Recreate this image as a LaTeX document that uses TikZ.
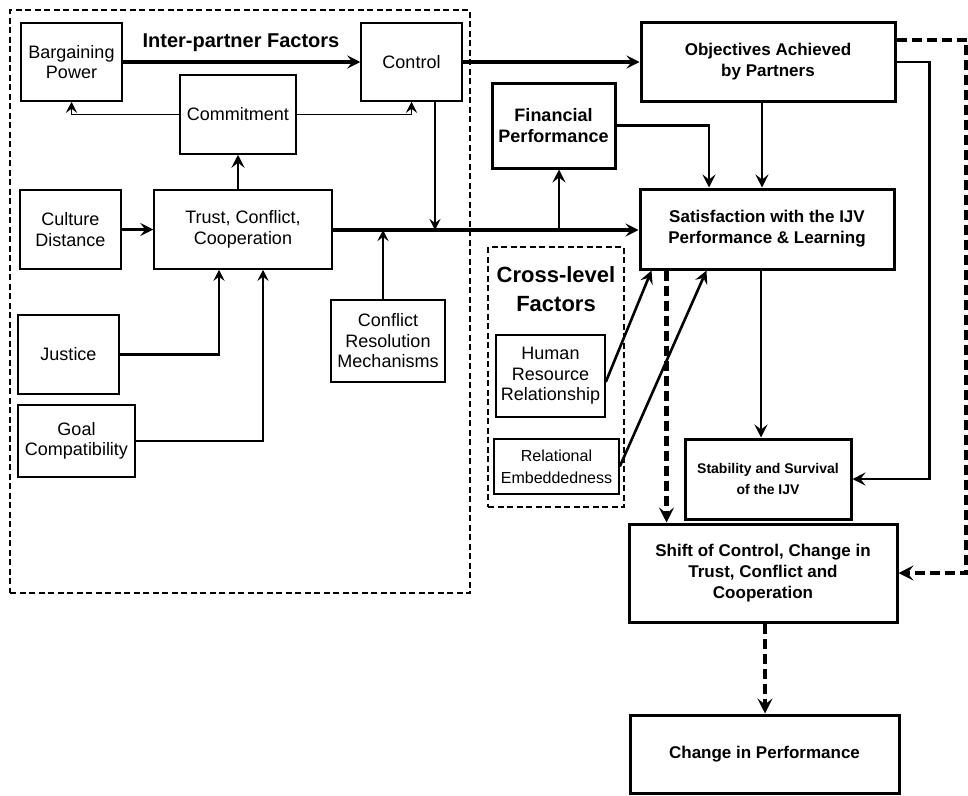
\documentclass[tikz,border=0pt]{standalone}
\usepackage{fontspec}
\setmainfont{Liberation Sans}
\usetikzlibrary{arrows.meta,calc,positioning}

\begin{document}
\begin{tikzpicture}[
    % GLOBAL CFG
    x=1pt, y=-1pt,
    >={Stealth[length=13pt,width=13pt,inset=5pt]},
    % Styles
    factor/.style={% For the plain factor boxes
        rectangle,
        draw,
        line width=1.5pt,
        align=center,
        inner sep=1pt,
        font=\fontsize{18}{20.5}\selectfont,
        },
    outcome/.style={% For the bold outcome boxes
        rectangle,
        draw,
        line width=3pt,
        align=center,
        inner sep=1pt,
        font=\bfseries\fontsize{17}{21}\selectfont,
        },
    group/.style={% For the dashed frames
        rectangle,
        draw,
        line width=2.8pt,
        dash pattern=on 6pt off 3.5pt,
        },
    grouptitle/.style={% Titles of the frames
        align=center,
        inner sep=0pt,
        font=\bfseries\fontsize{20}{28}\selectfont,
        },
    ArrowThin/.style={% Thin connectors
        ->,
        line width=1.8pt,
        >={Stealth[length=11pt,width=11pt,inset=4pt]},
        },
    ArrowThick/.style={% Thick connectors
        ->,
        line width=3.2pt,
        },
    ArrowDash/.style={% Dashed feedback connectors
        ->,
        line width=4.2pt,
        dash pattern=on 10pt off 5pt,
        >={Stealth[length=15pt,width=15pt,inset=6pt]},
        },
    ]

\useasboundingbox (0,0) rectangle (968,795);

%Frames
    \node [group, minimum width=460pt, minimum height=583pt] (ipbox) at (240,301.5) {};
    \node [group, minimum width=136pt, minimum height=260pt] (clbox) at (556,377) {};
    \node [grouptitle] (iptitle) at (241,43) {Inter-partner Factors};
    \node [grouptitle, font=\bfseries\fontsize{22}{29}\selectfont] (cltitle) at (556,289) {Cross-level\\Factors};

%Inter-partner factors
    \node [factor, minimum width=101pt, minimum height=78pt] (bp) at (71.5,62) {Bargaining\\Power};
    \node [factor, minimum width=101pt, minimum height=78pt] (ctrl) at (411.5,62) {Control};
    \node [factor, minimum width=116pt, minimum height=79pt] (comm) at (238,114.5) {Commitment};
    \node [factor, minimum width=101pt, minimum height=79pt] (cd) at (70.5,229.5) {Culture\\Distance};
    \node [factor, minimum width=178pt, minimum height=79pt] (tcc) at (243,229.5) {Trust, Conflict,\\Cooperation};
    \node [factor, minimum width=101pt, minimum height=79pt] (just) at (68.5,354.5) {Justice};
    \node [factor, minimum width=117pt, minimum height=72pt] (goal) at (76.5,441) {Goal\\Compatibility};
    \node [factor, minimum width=114pt, minimum height=82pt] (crm) at (388,341) {Conflict\\Resolution\\Mechanisms};

%Cross-level factors
    \node [factor, minimum width=109pt, minimum height=82pt] (hr) at (550.5,376) {Human\\Resource\\Relationship};
    \node [factor, minimum width=125pt, minimum height=55pt, font=\fontsize{16}{22}\selectfont] (rel) at (556.5,466.5) {Relational\\Embeddedness};

%Outcomes
    \node [outcome, minimum width=254pt, minimum height=79pt] (obj) at (768,62) {Objectives Achieved\\by Partners};
    \node [outcome, minimum width=123pt, minimum height=85pt, font=\bfseries\fontsize{18}{21}\selectfont] (fin) at (553.5,125.5) {Financial\\Performance};
    \node [outcome, minimum width=254pt, minimum height=80pt] (sat) at (767,229) {Satisfaction with the IJV\\Performance \& Learning};
    \node [outcome, minimum width=166pt, minimum height=80pt, font=\bfseries\fontsize{14}{21}\selectfont] (stab) at (768,479) {Stability and Survival\\of the IJV};
    \node [outcome, minimum width=268pt, minimum height=98pt] (shift) at (763,573) {Shift of Control, Change in\\Trust, Conflict and\\Cooperation};
    \node [outcome, minimum width=269pt, minimum height=78pt] (chg) at (764.5,754) {Change in Performance};

%Junctions on the main line
    \coordinate (jcrm) at (383,230);
    \coordinate (jctrl) at (435,230);
    \coordinate (jfin) at (559,230);

%Connectors inside the frame
    \draw [ArrowThick] (bp) -- (ctrl);
    \draw [ArrowThin] (comm.west) -| (bp.south);
    \draw [ArrowThin] (comm.east) -| (ctrl.south);
    \draw [ArrowThick, line width=2.4pt] (comm |- tcc.north) -- (comm.south);
    \draw [ArrowThick, line width=2.4pt] (cd) -- (tcc);
    \draw [ArrowThin, line width=2.2pt] (just.east) -| ($(tcc.south)+(-24,0)$);
    \draw [ArrowThin, line width=2.2pt] (goal.east) -| ($(tcc.south)+(20,0)$);
    \draw [ArrowThin, line width=2.2pt] (crm.north -| jcrm) -- (jcrm);
    \draw [ArrowThin, line width=2.2pt] (ctrl.south -| jctrl) -- (jctrl);

%Main line and outcomes
    \draw [ArrowThick] (tcc.east |- jctrl) -- (sat.west |- jctrl);
    \draw [ArrowThick, line width=2.6pt] (jfin) -- (fin.south -| jfin);
    \draw [ArrowThick] (ctrl.east) -- (obj.west |- ctrl.east);
    \draw [ArrowThick, line width=2.6pt] (fin.east) -| ($(sat.north)+(-58,0)$);
    \draw [ArrowThick, line width=2.6pt] ($(obj.south)+(-6,0)$) -- ($(sat.north)+(-5,0)$);
    \draw [ArrowThick, line width=2.6pt] (obj.east) -- ++(33,0) |- (stab.east);
    \draw [ArrowThick, line width=2.6pt] ($(sat.south)+(-6,0)$) -- ($(stab.north)+(-7,0)$);
    \draw [ArrowThick, line width=2.6pt] ($(hr.east)+(0,6)$) -- ($(sat.south west)+(13,0)$);
    \draw [ArrowThick, line width=2.6pt] (rel.east) -- ($(sat.south west)+(68,0)$);

%Feedback
    \draw [ArrowDash] ($(obj.north east)+(0,19)$) -- ++(70,0) |- (shift.east);
    \draw [ArrowDash] ($(sat.south west)+(28,0)$) -- ($(shift.north west)+(39,0)$);
    \draw [ArrowDash] ($(shift.south)+(2,0)$) -- ($(chg.north)+(0.5,0)$);

\end{tikzpicture}
\end{document}
